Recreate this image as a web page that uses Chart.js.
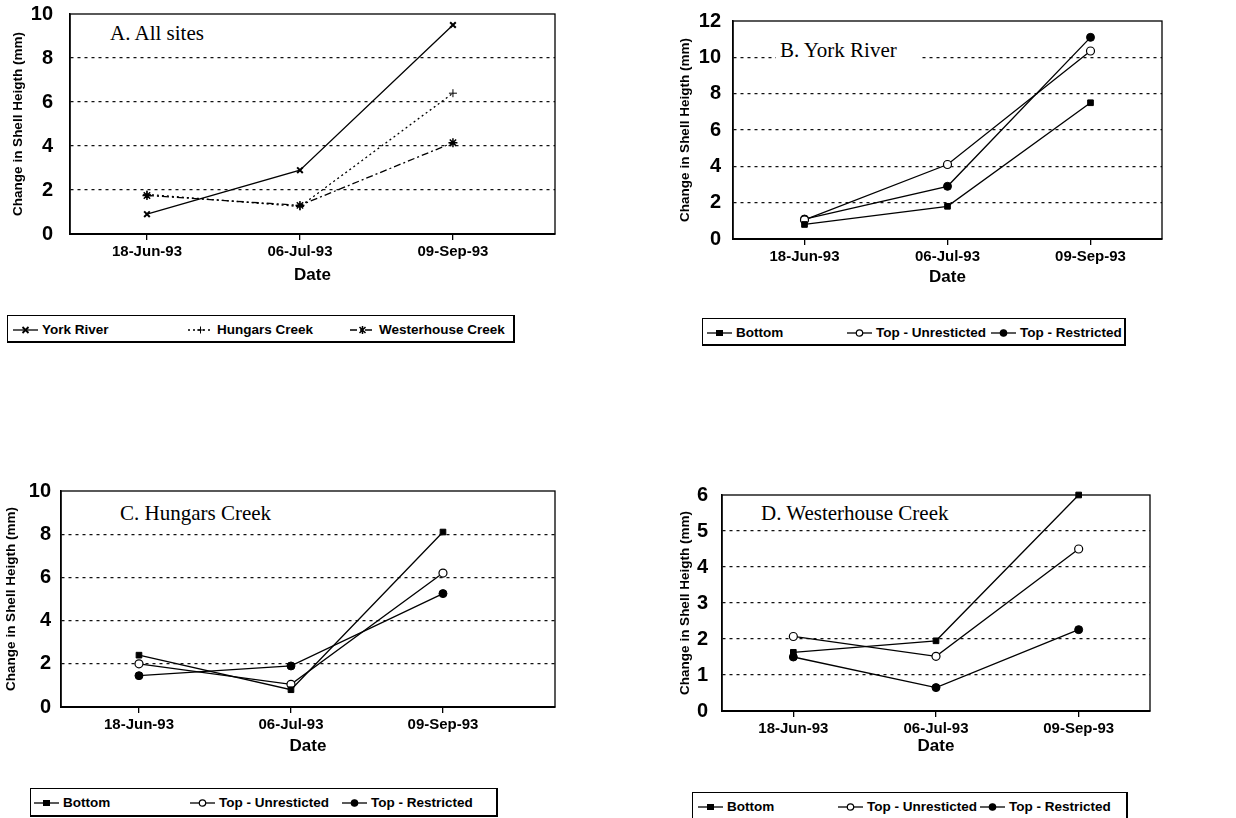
<!DOCTYPE html>
<html lang="en">
<head>
<meta charset="UTF-8">
<title>Change in Shell Height</title>
<script src="https://cdn.jsdelivr.net/npm/chart.js"></script>
<style>
    body { margin: 0; background: #fff; width: 1236px; height: 818px; position: relative; overflow: hidden; font-family: "Liberation Sans", Arial, sans-serif; }
    canvas { position: absolute; }
    .panel-title { position: absolute; font-family: "Liberation Serif", "Times New Roman", serif; font-size: 21px; line-height: 24px; background: #fff; padding: 0 4px; color: #000; white-space: nowrap; }
    .legend { position: absolute; height: 28px; border: 1px solid #000; border-right-width: 2px; border-bottom-width: 2px; box-sizing: border-box; background: #fff; }
    .legend-item { position: absolute; top: 5px; white-space: nowrap; font-weight: bold; font-size: 13.5px; line-height: 18px; display: flex; align-items: center; color: #000; }
    .legend-item svg { margin-right: 4px; }
</style>
</head>
<body>
<canvas id="chartA" width="600" height="300" style="left:0;top:0"></canvas>
<canvas id="chartB" width="596" height="300" style="left:640px;top:0"></canvas>
<canvas id="chartC" width="600" height="300" style="left:0;top:470px"></canvas>
<canvas id="chartD" width="596" height="300" style="left:640px;top:470px"></canvas>

<div class="panel-title" style="left:106px;top:21px">A. All sites</div>
<div class="panel-title" style="left:776px;top:38px;padding-right:25px">B. York River</div>
<div class="panel-title" style="left:116px;top:501px">C. Hungars Creek</div>
<div class="panel-title" style="left:757px;top:501px">D. Westerhouse Creek</div>

<div id="legendA" class="legend" style="left:7px;top:315px;width:508px"></div>
<div id="legendB" class="legend" style="left:702px;top:318px;width:424px"></div>
<div id="legendC" class="legend" style="left:30px;top:788px;width:468px;height:29px"></div>
<div id="legendD" class="legend" style="left:692px;top:792px;width:436px;height:29px"></div>

<script>
    // categories
    const dates = ['18-Jun-93', '06-Jul-93', '09-Sep-93'];

    // A. All sites
    const siteNames = ['York River', 'Hungars Creek', 'Westerhouse Creek'];
    const yorkRiver = [0.9, 2.9, 9.5];
    const hungarsCreek = [1.8, 1.25, 6.4];
    const westerhouseCreek = [1.75, 1.3, 4.15];

    // B-D, by treatment
    const treatmentNames = ['Bottom', 'Top - Unresticted', 'Top - Restricted'];
    const yorkBottom = [0.8, 1.8, 7.5];
    const yorkUnrestricted = [1.05, 4.1, 10.35];
    const yorkRestricted = [1.1, 2.9, 11.1];
    const hungarsBottom = [2.4, 0.8, 8.1];
    const hungarsUnrestricted = [2.0, 1.05, 6.2];
    const hungarsRestricted = [1.45, 1.9, 5.25];
    const westBottom = [1.63, 1.95, 6.0];
    const westUnrestricted = [2.07, 1.52, 4.5];
    const westRestricted = [1.5, 0.65, 2.26];

    // y axis ranges
    const yMaxA = 10, yStepA = 2;
    const yMaxB = 12, yStepB = 2;
    const yMaxC = 10, yStepC = 2;
    const yMaxD = 6, yStepD = 1;

    const FONT = '"Liberation Sans", Arial, sans-serif';

    // marker / line styles
    const siteStyles = [
        { dash: [], point: 'crossRot', radius: 4, fill: '#000', pointBorder: 2 },
        { dash: [2, 3], point: 'cross', radius: 4, fill: '#000', pointBorder: 1 },
        { dash: [7, 3, 2, 3], point: 'star', radius: 4.5, fill: '#000', pointBorder: 1.5 }
    ];
    const treatmentStyles = [
        { dash: [], point: 'rect', radius: 4, fill: '#000', pointBorder: 1 },
        { dash: [], point: 'circle', radius: 4, fill: '#fff', pointBorder: 1.2 },
        { dash: [], point: 'circle', radius: 4, fill: '#000', pointBorder: 1 }
    ];

    // box around the plot area
    const plotFrame = {
        id: 'plotFrame',
        beforeDatasetsDraw(chart) {
            const { ctx, chartArea: a } = chart;
            ctx.save();
            ctx.strokeStyle = '#000';
            ctx.lineWidth = 1.3;
            ctx.strokeRect(a.left, a.top, a.right - a.left, a.bottom - a.top);
            ctx.restore();
        }
    };

    function makeChart(canvasId, names, seriesValues, styles, cfg) {
        const datasets = seriesValues.map((values, k) => ({
            label: names[k],
            data: values.map((v, i) => ({ x: i, y: v })),
            borderColor: '#000',
            borderWidth: 1.3,
            borderDash: styles[k].dash,
            pointStyle: styles[k].point,
            pointRadius: styles[k].radius,
            pointBackgroundColor: styles[k].fill,
            pointBorderColor: '#000',
            pointBorderWidth: styles[k].pointBorder,
            tension: 0,
            clip: false
        }));

        return new Chart(document.getElementById(canvasId), {
            type: 'line',
            data: { datasets: datasets },
            options: {
                responsive: false,
                animation: false,
                events: [],
                layout: { padding: cfg.padding },
                plugins: { legend: { display: false }, tooltip: { enabled: false } },
                scales: {
                    x: {
                        type: 'linear',
                        min: cfg.xMin,
                        max: cfg.xMax,
                        afterBuildTicks: sc => { sc.ticks = dates.map((d, i) => ({ value: i })); },
                        afterFit: sc => { sc.height = cfg.xHeight; },
                        ticks: {
                            callback: v => dates[v],
                            color: '#000',
                            font: { family: FONT, size: 15, weight: 'bold' },
                            padding: 3,
                            maxRotation: 0,
                            autoSkip: false
                        },
                        grid: { drawOnChartArea: false, drawTicks: true, tickLength: 6, color: '#000', lineWidth: 1.3 },
                        border: { color: '#000', width: 2 },
                        title: {
                            display: true,
                            text: 'Date',
                            color: '#000',
                            font: { family: FONT, size: 17, weight: 'bold' },
                            padding: { top: 0, bottom: cfg.datePad }
                        }
                    },
                    y: {
                        min: 0,
                        max: cfg.yMax,
                        afterFit: sc => { sc.width = cfg.yWidth; },
                        ticks: {
                            stepSize: cfg.yStep,
                            color: '#000',
                            font: { family: FONT, size: 20, weight: 'bold' },
                            padding: 2
                        },
                        grid: {
                            drawTicks: true,
                            tickLength: cfg.tickGap,
                            tickColor: 'rgba(0,0,0,0)',
                            lineWidth: 1.2,
                            color: c => (c.tick && (c.tick.value === 0 || c.tick.value === cfg.yMax)) ? 'rgba(0,0,0,0)' : '#111'
                        },
                        border: { display: true, color: '#000', width: 1.5, dash: [3, 4] },
                        title: {
                            display: true,
                            text: 'Change in Shell Heigth (mm)',
                            color: '#000',
                            font: { family: FONT, size: 13.5, weight: 'bold' },
                            padding: { top: cfg.titlePad, bottom: 0 }
                        }
                    }
                }
            },
            plugins: [plotFrame]
        });
    }

    // legend symbols as small svg drawn from the same styles
    function legendSymbol(st) {
        let marker = '';
        if (st.point === 'rect') {
            marker = '<rect x="9" y="2" width="7" height="6" fill="#000"/>';
        } else if (st.point === 'circle') {
            marker = '<circle cx="12.5" cy="5" r="3.2" fill="' + st.fill + '" stroke="#000" stroke-width="1.2"/>';
        } else if (st.point === 'crossRot') {
            marker = '<path d="M9.5 2 L15.5 8 M15.5 2 L9.5 8" stroke="#000" stroke-width="1.8"/>';
        } else if (st.point === 'cross') {
            marker = '<path d="M12.5 1.5 L12.5 8.5 M9 5 L16 5" stroke="#000" stroke-width="1"/>';
        } else {
            marker = '<path d="M9.5 2 L15.5 8 M15.5 2 L9.5 8 M12.5 1 L12.5 9" stroke="#000" stroke-width="1.5"/>';
        }
        const dash = st.dash.length ? ' stroke-dasharray="' + st.dash.join(',') + '"' : '';
        return '<svg width="25" height="10" viewBox="0 0 25 10"><line x1="0" y1="5" x2="25" y2="5" stroke="#000" stroke-width="1.3"' + dash + '/>' + marker + '</svg>';
    }

    function buildLegend(id, names, styles, columns) {
        const box = document.getElementById(id);
        names.forEach((name, k) => {
            const item = document.createElement('div');
            item.className = 'legend-item';
            item.style.left = columns[k] + 'px';
            item.innerHTML = legendSymbol(styles[k]) + '<span>' + name + '</span>';
            box.appendChild(item);
        });
    }

    makeChart('chartA', siteNames, [yorkRiver, hungarsCreek, westerhouseCreek], siteStyles, {
        yMax: yMaxA, yStep: yStepA, xMin: -0.503, xMax: 2.667,
        yWidth: 70, xHeight: 66, tickGap: 15, titlePad: 10, datePad: 14,
        padding: { top: 14, right: 45, left: 0, bottom: 0 }
    });
    makeChart('chartB', treatmentNames, [yorkBottom, yorkUnrestricted, yorkRestricted], treatmentStyles, {
        yMax: yMaxB, yStep: yStepB, xMin: -0.5, xMax: 2.5,
        yWidth: 93, xHeight: 61, tickGap: 10, titlePad: 37, datePad: 12,
        padding: { top: 21, right: 74, left: 0, bottom: 0 }
    });
    makeChart('chartC', treatmentNames, [hungarsBottom, hungarsUnrestricted, hungarsRestricted], treatmentStyles, {
        yMax: yMaxC, yStep: yStepC, xMin: -0.513, xMax: 2.737,
        yWidth: 61, xHeight: 63, tickGap: 8, titlePad: 3, datePad: 13,
        padding: { top: 21, right: 45, left: 0, bottom: 0 }
    });
    makeChart('chartD', treatmentNames, [westBottom, westUnrestricted, westRestricted], treatmentStyles, {
        yMax: yMaxD, yStep: yStepD, xMin: -0.5, xMax: 2.5,
        yWidth: 82, xHeight: 59, tickGap: 12, titlePad: 37, datePad: 13,
        padding: { top: 25, right: 86, left: 0, bottom: 0 }
    });

    buildLegend('legendA', siteNames, siteStyles, [5, 180, 342]);
    buildLegend('legendB', treatmentNames, treatmentStyles, [4, 144, 288]);
    buildLegend('legendC', treatmentNames, treatmentStyles, [3, 159, 311]);
    buildLegend('legendD', treatmentNames, treatmentStyles, [5, 145, 287]);
</script>
</body>
</html>
